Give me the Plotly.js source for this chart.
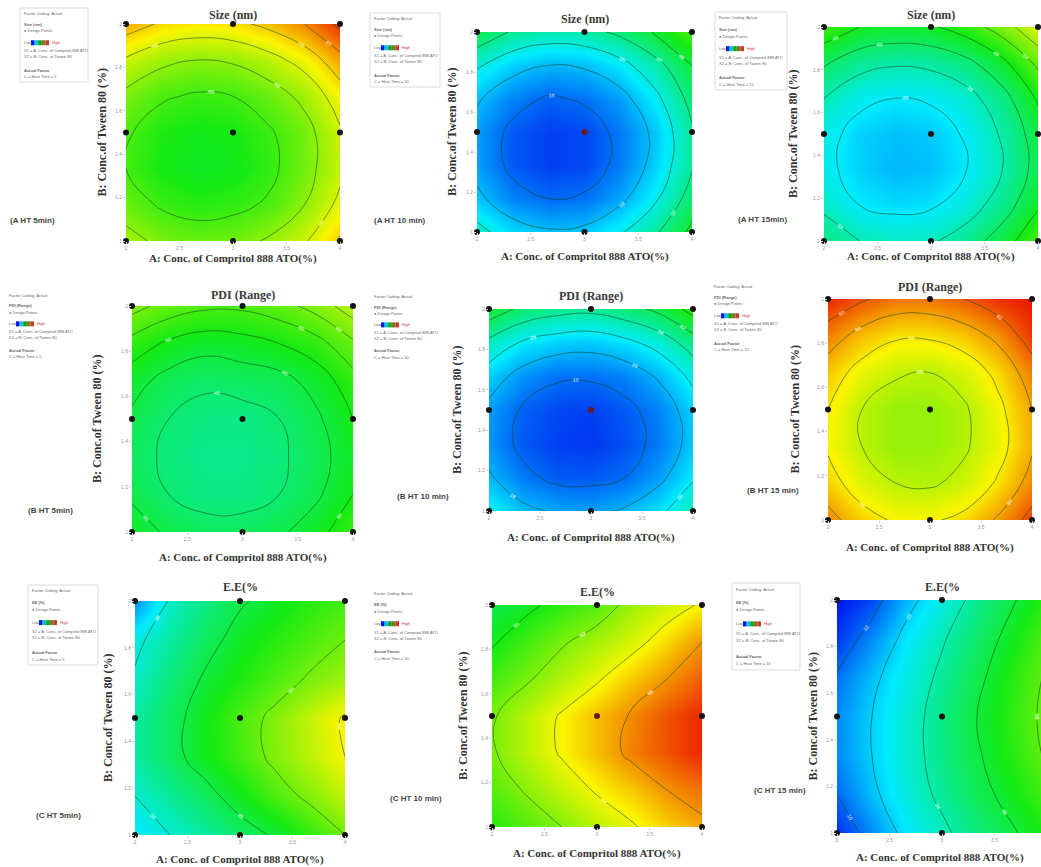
<!DOCTYPE html>
<html><head><meta charset="utf-8">
<script src="https://cdn.plot.ly/plotly-3.0.1.min.js"></script>
<style>html,body{margin:0;padding:0;background:#fff;overflow:hidden}#chart{width:1041px;height:867px}</style>
</head><body><div id="chart"></div>
<script>
// ---------- DATA ----------
const xLevels = [2, 2.3333, 2.6667, 3, 3.3333, 3.6667, 4];        // A: Conc. of Compritol 888 ATO (%)
const yLevels = [1, 1.1667, 1.3333, 1.5, 1.6667, 1.8333, 2];      // B: Conc. of Tween 80 (%)
const xTickVals = [2, 2.5, 3, 3.5, 4];
const xTickText = ['2', '2.5', '3', '3.5', '4'];
const yTickVals = [1, 1.2, 1.4, 1.6, 1.8, 2];
const yTickText = ['1', '1.2', '1.4', '1.6', '1.8', '2'];
const designX = [2, 3, 4, 2, 3, 4, 2, 3, 4];
const designY = [1, 1, 1, 1.5, 1.5, 1.5, 2, 2, 2];

// colour-level readings (0 = blue ... 100 = red), rows bottom (B=1) to top (B=2)
const zSize5 = [
  [66, 61, 59, 60, 64, 70, 80],
  [59, 54, 52, 53, 56, 63, 73],
  [55, 50, 48, 49, 53, 60, 69],
  [56, 51, 49, 50, 54, 60, 70],
  [61, 56, 54, 55, 59, 65, 75],
  [70, 65, 63, 64, 68, 74, 84],
  [83, 78, 76, 77, 81, 87, 97]
];
const zSize10 = [
  [31, 23, 20, 21, 27, 36, 48],
  [21, 13, 10, 11, 17, 27, 41],
  [16, 8, 5, 6, 12, 22, 36],
  [16, 8, 5, 6, 12, 21, 36],
  [20, 13, 9, 11, 16, 26, 40],
  [29, 22, 19, 20, 25, 34, 46],
  [44, 36, 33, 34, 39, 47, 56]
];
const zSize15 = [
  [39, 33, 31, 32, 37, 45, 56],
  [31, 25, 23, 24, 29, 37, 48],
  [27, 22, 19, 20, 25, 33, 44],
  [28, 22, 20, 21, 26, 34, 45],
  [33, 27, 25, 26, 30, 38, 50],
  [42, 36, 34, 35, 39, 47, 59],
  [55, 49, 47, 48, 53, 61, 72]
];
const zPdi5 = [
  [48, 44, 42, 42, 44, 48, 54],
  [44, 40, 38, 38, 40, 44, 50],
  [42, 39, 37, 37, 39, 43, 48],
  [44, 40, 38, 38, 40, 44, 50],
  [47, 43, 41, 42, 43, 47, 53],
  [53, 49, 47, 48, 50, 53, 59],
  [62, 58, 56, 56, 58, 62, 68]
];
const zPdi10 = [
  [27, 20, 17, 16, 19, 24, 33],
  [19, 12, 8, 8, 10, 16, 25],
  [15, 8, 5, 4, 7, 12, 21],
  [16, 9, 6, 5, 8, 13, 22],
  [22, 15, 11, 11, 13, 19, 28],
  [32, 25, 22, 21, 24, 29, 38],
  [47, 40, 37, 36, 39, 44, 53]
];
const zPdi15 = [
  [87, 79, 75, 75, 78, 85, 95],
  [79, 72, 68, 67, 70, 77, 87],
  [75, 68, 64, 64, 67, 73, 83],
  [76, 68, 64, 64, 67, 74, 84],
  [80, 73, 69, 68, 71, 78, 88],
  [88, 81, 77, 77, 80, 86, 96],
  [98, 93, 89, 89, 92, 97, 100]
];
const zEe5 = [
  [24, 30, 35, 41, 46, 53, 60],
  [30, 36, 42, 49, 56, 62, 69],
  [35, 42, 49, 55, 62, 68, 75],
  [35, 42, 49, 56, 62, 69, 76],
  [31, 39, 46, 51, 56, 61, 65],
  [28, 35, 42, 48, 52, 56, 60],
  [14, 31, 38, 44, 48, 52, 55]
];
const zEe10 = [
  [52, 57, 62, 68, 73, 79, 84],
  [57, 63, 69, 75, 80, 86, 90],
  [61, 68, 75, 81, 88, 93, 98],
  [61, 68, 75, 81, 87, 93, 98],
  [55, 61, 67, 73, 80, 86, 92],
  [49, 55, 61, 66, 71, 78, 86],
  [44, 48, 53, 57, 65, 70, 75]
];
const zEe15 = [
  [3, 14, 25, 32, 39, 45, 51],
  [10, 20, 29, 36, 43, 49, 56],
  [14, 22, 30, 38, 45, 52, 59],
  [14, 22, 30, 38, 46, 53, 60],
  [11, 20, 28, 36, 44, 52, 59],
  [4, 14, 25, 33, 41, 49, 57],
  [0, 6, 19, 28, 37, 45, 53]
];
const panelZ = [zSize5, zSize10, zSize15, zPdi5, zPdi10, zPdi15, zEe5, zEe10, zEe15];
const responseTitles = ['Size (nm)', 'Size (nm)', 'Size (nm)', 'PDI (Range)', 'PDI (Range)', 'PDI (Range)', 'E.E(%', 'E.E(%', 'E.E(%'];
const legendResponse = ['Size (nm)', 'Size (nm)', 'Size (nm)', 'PDI (Range)', 'PDI (Range)', 'PDI (Range)', 'EE (%)', 'EE (%)', 'EE (%)'];
const panelLabels = ['(A HT 5min)', '(A HT 10 min)', '(A HT 15min)', '(B HT 5min)', '(B HT 10 min)', '(B HT 15 min)', '(C HT 5min)', '(C HT 10 min)', '(C HT 15 min)'];
const heatTimes = ['5', '10', '15', '5', '10', '15', '5', '10', '15'];
const xTitle = 'A: Conc. of Compritol 888 ATO(%)';
const yTitle = 'B: Conc.of Tween 80 (%)';

// ---------- LAYOUT (pixel frames) ----------
const W = 1041, H = 867;
const frames = [
  {b:[126,340,24,241], ty:15, xy:258, yx:102, lab:[8,220], leg:[20,8,88,82], bd:true, cs:55, sz:8},
  {b:[477,692,32,232], ty:19, xy:257, yx:452, lab:[372,220], leg:[370,13,440,87], bd:true, cs:10, sz:9},
  {b:[824,1038,27,241], ty:15, xy:257, yx:793, lab:[736,219], leg:[715,12,787,90], bd:true, cs:25, sz:8},
  {b:[132,353,306,532], ty:295, xy:557, yx:97, lab:[26,510], leg:[5,290,75,362], bd:false, cs:40, sz:5},
  {b:[489,693,309,511], ty:296, xy:537, yx:457, lab:[395,496], leg:[370,292,440,362], bd:false, cs:10, sz:8},
  {b:[828,1032,299,520], ty:287, xy:547, yx:794, lab:[745,490], leg:[710,281,780,355], bd:false, cs:68, sz:8},
  {b:[135,345,601,835], ty:587, xy:859, yx:108, lab:[34,815], leg:[28,585,98,665], bd:true, cs:30, sz:15},
  {b:[492,702,605,827], ty:592, xy:853, yx:463, lab:[388,798], leg:[370,588,440,664], bd:false, cs:50, sz:12},
  {b:[837,1047,600,833], ty:587, xy:857, yx:812, lab:[752,790], leg:[732,583,800,670], bd:true, cs:10, sz:12}
];

const CS = [[0,'rgb(0,20,240)'],[0.25,'rgb(0,235,255)'],[0.5,'rgb(20,235,20)'],[0.75,'rgb(250,245,0)'],[1,'rgb(235,20,0)']];
const px = v => v / W;
const py = v => 1 - v / H;

const data = [];
const layout = {
  width: W, height: H, margin: {l:0, r:0, t:0, b:0},
  paper_bgcolor: '#fff', plot_bgcolor: '#fff', showlegend: false,
  font: {family: 'Liberation Serif, serif', color: '#333'},
  annotations: [], shapes: []
};

frames.forEach((f, i) => {
  const n = i + 1;
  const xa = n === 1 ? 'x' : 'x' + n;
  const ya = n === 1 ? 'y' : 'y' + n;
  const [l, r, t, b] = f.b;
  const right = Math.min(r, W);
  const xEnd = 2 + 2 * (right - l) / (r - l);
  layout[n === 1 ? 'xaxis' : 'xaxis' + n] = {
    domain: [px(l), px(right)], range: [2, xEnd], anchor: ya,
    tickvals: xTickVals, ticktext: xTickText, tickfont: {size: 5, color: '#999', family: 'Liberation Sans'},
    ticks: 'outside', ticklen: 2, tickcolor: '#ccc', showgrid: false, zeroline: false, showline: false, fixedrange: true
  };
  layout[n === 1 ? 'yaxis' : 'yaxis' + n] = {
    domain: [py(b), py(t)], range: [1, 2], anchor: xa,
    tickvals: yTickVals, ticktext: yTickText, tickfont: {size: 5, color: '#999', family: 'Liberation Sans'},
    ticks: 'outside', ticklen: 2, tickcolor: '#ccc', showgrid: false, zeroline: false, showline: false, fixedrange: true
  };
  data.push({
    type: 'contour', x: xLevels, y: yLevels, z: panelZ[i], xaxis: xa, yaxis: ya,
    colorscale: CS, zauto: false, zmin: 0, zmax: 100, showscale: false, hoverinfo: 'skip',
    contours: {coloring: 'heatmap', start: f.cs, end: 100, size: f.sz, showlabels: true,
               labelfont: {size: 5, color: '#f2f2f2', family: 'Liberation Sans'}},
    line: {color: 'rgba(20,70,20,0.55)', width: 1, smoothing: 1.3}
  });
  const centerCol = (i === 1 || i === 4 || i === 7) ? 'rgb(110,25,25)' : '#141414';
  data.push({
    type: 'scatter', mode: 'markers', x: designX, y: designY, xaxis: xa, yaxis: ya,
    cliponaxis: false, hoverinfo: 'skip',
    marker: {size: 6, color: designX.map((v, k) => k === 4 ? centerCol : '#141414')}
  });
  const cx = (l + r) / 2, cy = (t + b) / 2;
  layout.annotations.push({text: '<b>' + responseTitles[i] + '</b>', xref: 'paper', yref: 'paper', x: px(Math.min(cx, 1000)), y: py(f.ty),
    showarrow: false, xanchor: 'center', yanchor: 'middle', font: {size: 12, color: '#3a3a3a', family: 'Liberation Serif'}});
  layout.annotations.push({text: '<b>' + xTitle + '</b>', xref: 'paper', yref: 'paper', x: px(Math.min(cx, 940)), y: py(f.xy),
    showarrow: false, xanchor: 'center', yanchor: 'middle', font: {size: 11, color: '#333', family: 'Liberation Serif'}});
  layout.annotations.push({text: '<b>' + yTitle + '</b>', xref: 'paper', yref: 'paper', x: px(f.yx), y: py(cy),
    showarrow: false, xanchor: 'center', yanchor: 'middle', textangle: -90, font: {size: 12, color: '#333', family: 'Liberation Serif'}});
  layout.annotations.push({text: '<b>' + panelLabels[i] + '</b>', xref: 'paper', yref: 'paper', x: px(f.lab[0]), y: py(f.lab[1]),
    showarrow: false, xanchor: 'left', yanchor: 'middle', font: {size: 8, color: '#444', family: 'Liberation Sans'}});
  const [x0, y0, x1, y1] = f.leg;
  const hh = y1 - y0;
  if (f.bd) {
    layout.shapes.push({type: 'rect', xref: 'paper', yref: 'paper', x0: px(x0), x1: px(x1), y0: py(y1), y1: py(y0),
      line: {color: '#dcdcdc', width: 1}, fillcolor: 'rgba(0,0,0,0)'});
  }
  const lines = [
    ['Factor Coding: Actual', 0.07, false],
    [legendResponse[i], 0.22, true],
    ['\u25CF Design Points', 0.31, false],
    ['X1 = A: Conc. of Compritol 888 ATO', 0.58, false],
    ['X2 = B: Conc. of Tween 80', 0.66, false],
    ['Actual Factor', 0.84, true],
    ['C = Heat Time = ' + heatTimes[i], 0.93, false]
  ];
  lines.forEach(([tx, fr, bold]) => {
    layout.annotations.push({text: bold ? '<b>' + tx + '</b>' : tx, xref: 'paper', yref: 'paper', x: px(x0 + 2), y: py(y0 + fr * hh),
      showarrow: false, xanchor: 'left', yanchor: 'middle', font: {size: 4, color: '#666', family: 'Liberation Sans'}});
  });
  const sy = y0 + 0.47 * hh;
  layout.annotations.push({text: 'Low', xref: 'paper', yref: 'paper', x: px(x0 + 2), y: py(sy), showarrow: false,
    xanchor: 'left', yanchor: 'middle', font: {size: 4, color: '#666', family: 'Liberation Sans'}});
  layout.annotations.push({text: 'High', xref: 'paper', yref: 'paper', x: px(x0 + 30), y: py(sy), showarrow: false,
    xanchor: 'left', yanchor: 'middle', font: {size: 4, color: '#c44', family: 'Liberation Sans'}});
  const sw = ['rgb(0,20,240)', 'rgb(0,200,220)', 'rgb(20,160,20)', 'rgb(120,120,40)', 'rgb(200,60,40)'];
  sw.forEach((c, k) => {
    layout.shapes.push({type: 'rect', xref: 'paper', yref: 'paper', x0: px(x0 + 11 + k * 3.6), x1: px(x0 + 11 + (k + 1) * 3.6),
      y0: py(sy + 2.5), y1: py(sy - 2.5), line: {width: 0}, fillcolor: c});
  });
});

Plotly.newPlot('chart', data, layout, {displayModeBar: false, staticPlot: true});
</script>
</body></html>
